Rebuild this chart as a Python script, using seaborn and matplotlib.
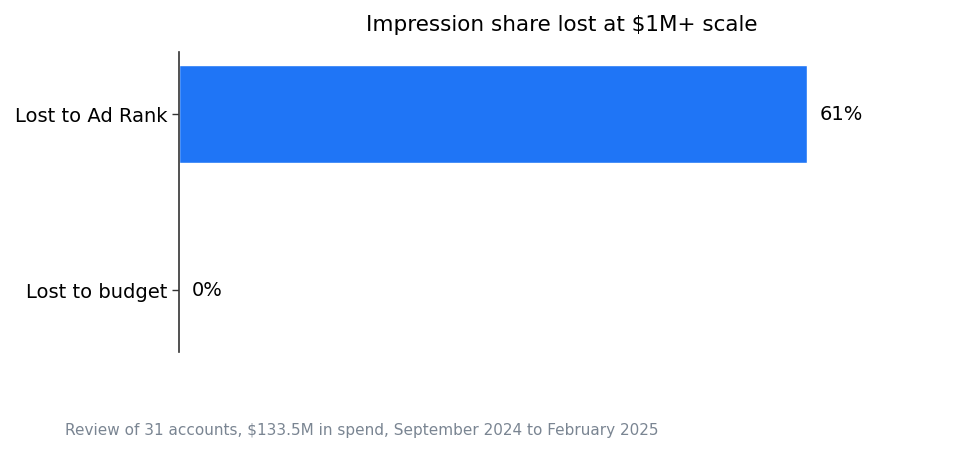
import matplotlib
matplotlib.use('Agg')
import matplotlib.pyplot as plt
import pandas as pd
import seaborn as sns

# Données du graphique
categories = ['Lost to Ad Rank', 'Lost to budget']
share_lost = [61, 0]
bar_color = '#1f75f6'

df = pd.DataFrame({'categorie': categories, 'part': share_lost})

sns.set_style('white')
plt.rcParams['font.family'] = ['DejaVu Sans']
plt.rcParams['text.color'] = 'black'
plt.rcParams['ytick.color'] = 'black'

fig, ax = plt.subplots(figsize=(9.6, 4.53), dpi=100)
fig.subplots_adjust(left=0.1865, right=0.983, top=0.885, bottom=0.222)

sns.barplot(data=df, x='part', y='categorie', color=bar_color, width=0.56,
            saturation=1, ax=ax)

# Étiquettes de valeur à droite des barres
for i, v in enumerate(share_lost):
    ax.text(v + 1.2, i, f'{v}%', va='center', ha='left', fontsize=14, color='black')

ax.set_xlim(0, 74.3)
ax.set_ylim(1.352, -0.352)
ax.set_xlabel('')
ax.set_ylabel('')
ax.set_xticks([])
ax.set_title('Impression share lost at $1M+ scale', fontsize=15.5, pad=15, color='black')
ax.tick_params(axis='y', labelsize=14, length=5, width=1, left=True, color='#333333')

for s in ['top', 'right', 'bottom']:
    ax.spines[s].set_visible(False)
ax.spines['left'].set_color('#333333')
ax.spines['left'].set_linewidth(1.2)

fig.text(0.068, 0.033, 'Review of 31 accounts, $133.5M in spend, September 2024 to February 2025',
         fontsize=11, color='#7a8592', ha='left', va='bottom')

plt.savefig('out.png', dpi=100)
